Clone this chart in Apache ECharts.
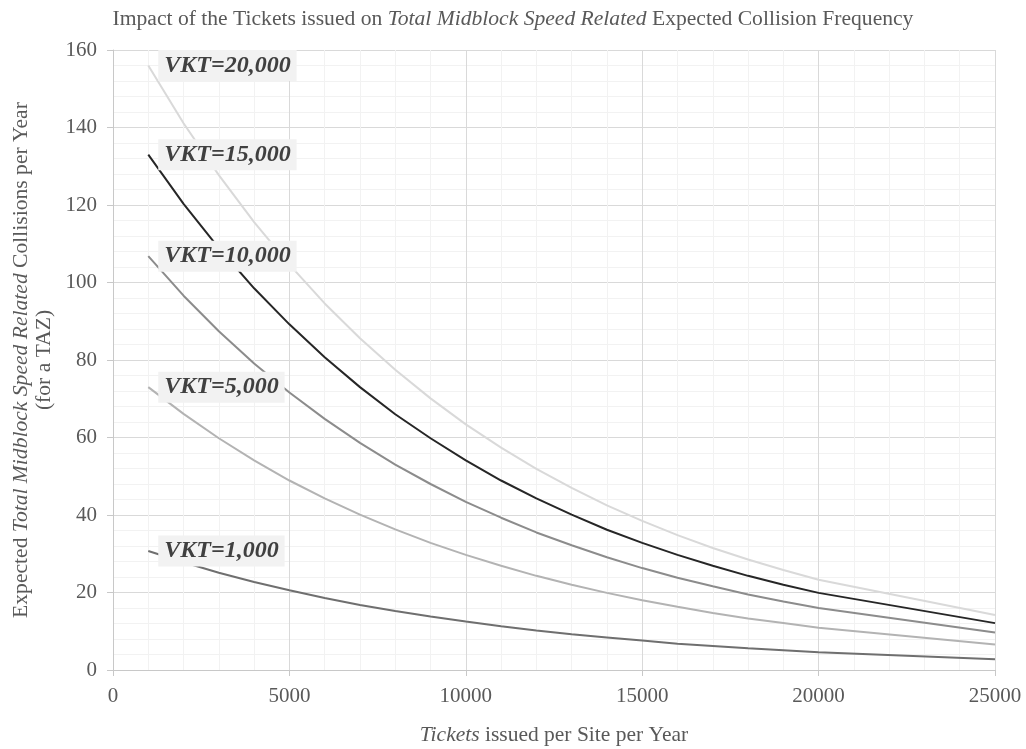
<!DOCTYPE html>
<html>
<head>
<meta charset="utf-8">
<script src="https://cdn.jsdelivr.net/npm/echarts@6/dist/echarts.min.js"></script>
<style>html,body{margin:0;padding:0;background:#fff}#c{width:1026px;height:749px}</style>
</head>
<body>
<div id="c"></div>
<script>
const tickets = [1000,2000,3000,4000,5000,6000,7000,8000,9000,10000,11000,12000,13000,14000,15000,16000,17000,18000,19000,20000,25000];
const vkt20000 = [156.0,141.1,127.7,115.6,104.6,94.6,85.6,77.5,70.1,63.4,57.4,51.9,47.0,42.5,38.5,34.8,31.5,28.5,25.8,23.3,14.2];
const vkt15000 = [133.0,120.3,108.9,98.5,89.2,80.7,73.0,66.0,59.8,54.1,48.9,44.3,40.1,36.2,32.8,29.7,26.9,24.3,22.0,19.9,12.1];
const vkt10000 = [106.8,96.6,87.4,79.1,71.6,64.8,58.6,53.0,48.0,43.4,39.3,35.5,32.2,29.1,26.3,23.8,21.6,19.5,17.7,16.0,9.7];
const vkt5000  = [73.0,66.1,59.8,54.1,48.9,44.3,40.1,36.3,32.8,29.7,26.9,24.3,22.0,19.9,18.0,16.3,14.7,13.3,12.1,10.9,6.6];
const vkt1000  = [30.7,27.8,25.1,22.7,20.6,18.6,16.8,15.2,13.8,12.5,11.3,10.2,9.2,8.4,7.6,6.8,6.2,5.6,5.1,4.6,2.8];
const seriesNames = ['VKT=20,000','VKT=15,000','VKT=10,000','VKT=5,000','VKT=1,000'];
const seriesValues = [vkt20000, vkt15000, vkt10000, vkt5000, vkt1000];
const seriesColors = ['#d9d9d9','#262626','#8c8c8c','#b3b3b3','#6f6f6f'];

const serif = '"Liberation Serif", "Times New Roman", serif';

function buildData(vals, name){
  return tickets.map((t,i)=>{
    if(i===0){
      return {value:[t, vals[i]], label:{show:true, formatter:name}};
    }
    return {value:[t, vals[i]], label:{show:false}};
  });
}

const series = seriesValues.map((vals, i)=>({
  type:'line',
  name: seriesNames[i],
  data: buildData(vals, seriesNames[i]),
  showSymbol:true,
  symbol:'circle',
  symbolSize:0,
  smooth:false,
  lineStyle:{color:seriesColors[i], width:2},
  itemStyle:{color:seriesColors[i]},
  label:{
    position:'right',
    distance:10,
    fontFamily:serif,
    fontStyle:'italic',
    fontWeight:'bold',
    fontSize:24,
    color:'#404040',
    backgroundColor:'#f2f2f2',
    padding:[4,6,3,6]
  },
  labelLayout:{hideOverlap:false},
  z: 2
}));

const chart = echarts.init(document.getElementById('c'), null, {renderer:'canvas'});
chart.setOption({
  animation:false,
  backgroundColor:'#fff',
  title:{
    text:'{n|Impact of the Tickets issued on }{i|Total Midblock Speed Related}{n| Expected Collision Frequency}',
    left:'center',
    top:3,
    textStyle:{
      fontWeight:'normal',
      rich:{
        n:{fontFamily:serif, fontSize:21.6, color:'#595959', fontWeight:'normal'},
        i:{fontFamily:serif, fontSize:21.6, color:'#595959', fontStyle:'italic', fontWeight:'normal'}
      }
    }
  },
  grid:{left:113, right:31, top:50, bottom:79, containLabel:false, outerBoundsMode:'none'},
  xAxis:{
    type:'value',
    min:0, max:25000, interval:5000,
    name:'{i|Tickets}{n| issued per Site per Year}',
    nameLocation:'middle',
    nameGap:54,
    nameMoveOverlap:false,
    nameTextStyle:{
      rich:{
        n:{fontFamily:serif, fontSize:21.5, color:'#595959'},
        i:{fontFamily:serif, fontSize:21.5, color:'#595959', fontStyle:'italic'}
      }
    },
    axisLine:{show:true, lineStyle:{color:'#c8c8c8', width:1}},
    axisTick:{show:true, length:6, lineStyle:{color:'#c8c8c8'}},
    axisLabel:{fontFamily:serif, fontSize:21, color:'#595959', margin:16, formatter:function(v){return String(v);}},
    splitLine:{show:true, lineStyle:{color:'#d9d9d9', width:1}},
    minorTick:{show:false, splitNumber:5},
    minorSplitLine:{show:true, lineStyle:{color:'#f2f2f2', width:1}}
  },
  yAxis:{
    type:'value',
    min:0, max:160, interval:20,
    name:'{n|Expected }{i|Total Midblock Speed Related}{n| Collisions per Year}\n{n|(for a TAZ)}',
    nameLocation:'middle',
    nameRotate:90,
    nameGap:57,
    nameMoveOverlap:false,
    nameTextStyle:{
      lineHeight:23,
      rich:{
        n:{fontFamily:serif, fontSize:21.6, color:'#595959', lineHeight:23},
        i:{fontFamily:serif, fontSize:21.6, color:'#595959', fontStyle:'italic', lineHeight:23}
      }
    },
    axisLine:{show:true, lineStyle:{color:'#c8c8c8', width:1}},
    axisTick:{show:true, length:6, lineStyle:{color:'#c8c8c8'}},
    axisLabel:{fontFamily:serif, fontSize:21, color:'#595959', margin:16},
    splitLine:{show:true, lineStyle:{color:'#d9d9d9', width:1}},
    minorTick:{show:false, splitNumber:5},
    minorSplitLine:{show:true, lineStyle:{color:'#f2f2f2', width:1}}
  },
  series: series
});
</script>
</body>
</html>
